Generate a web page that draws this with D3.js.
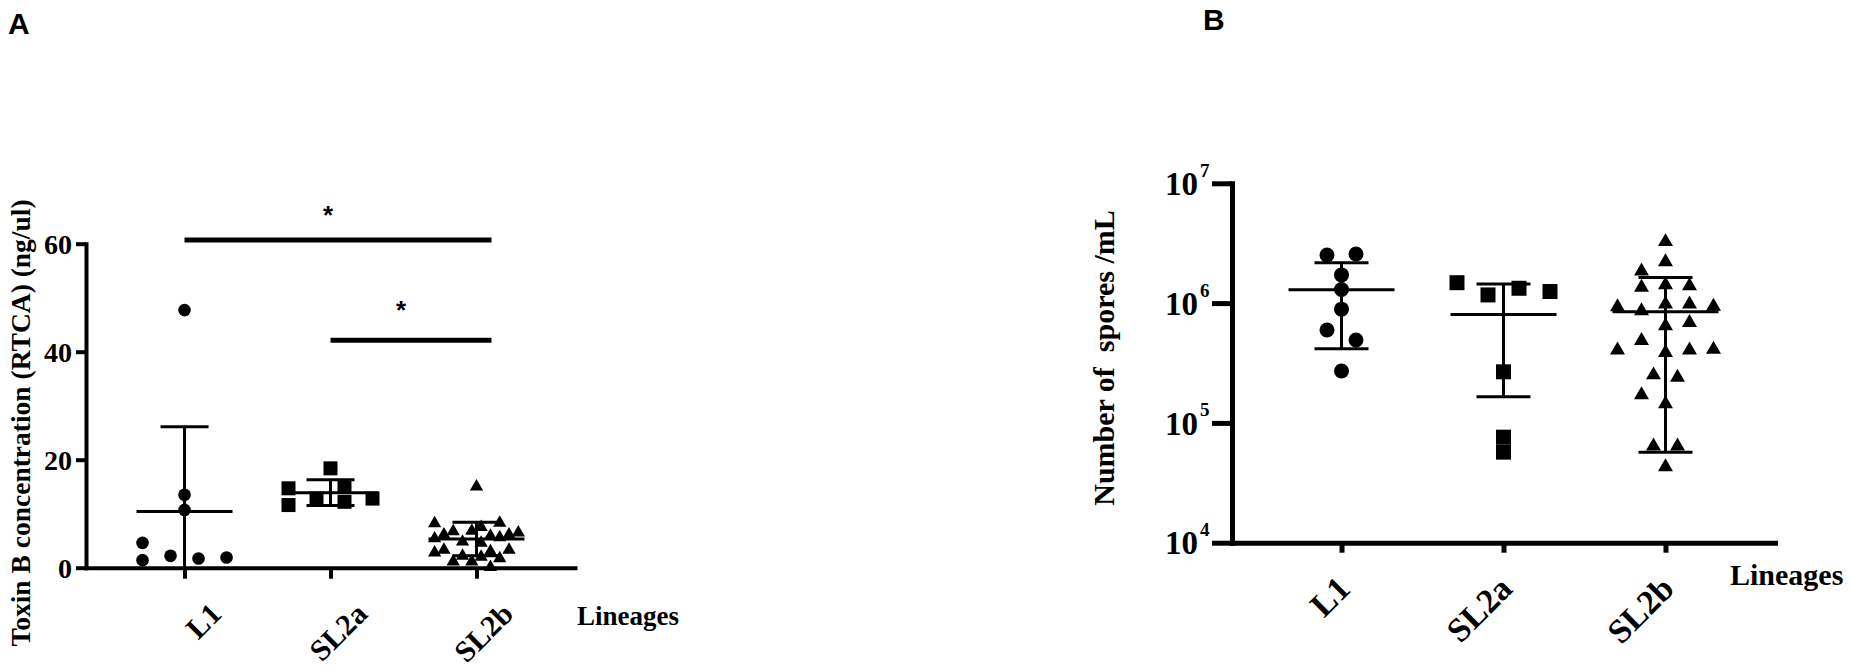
<!DOCTYPE html>
<html>
<head>
<meta charset="utf-8">
<script src="https://cdn.jsdelivr.net/npm/d3@7"></script>
<style>
  html, body { margin: 0; padding: 0; background: #fff; }
  svg { display: block; }
</style>
</head>
<body>
<svg id="chart" width="1851" height="671"></svg>
<script>
// ---------------- DATA ----------------
const categories = ["L1", "SL2a", "SL2b"];

// Panel A: Toxin B concentration (ng/ul)
const toxinL1   = [47.7, 13.5, 10.7, 4.6, 1.4, 2.2, 1.7, 1.9];
const toxinL1Slot = [0, 0, 0, -3, -3, -1, 1, 3];
const toxinSL2a = [18.4, 14.7, 11.6, 12.8, 15.0, 12.2, 12.8];
const toxinSL2aSlot = [0, -3, -3, -1, 1, 1, 3];
const toxinSL2b = [15.0, 8.2, 8.3, 6.7, 6.8, 7.5, 6.5, 5.4, 6.1, 5.9, 5.6, 6.1, 4.8, 4.6, 2.8, 3.3, 3.0, 3.3, 1.1, 2.2, 1.1, 2.0, 1.7, 0.1];
const toxinSL2bSlot = [0, -4.5, 2.5, -2.5, -0.5, 0.5, 4.5, -4.5, -3.5, 1.5, 2.5, 3.5, -1.5, 0.5, -4.5, -3.5, 1.5, 3.5, -2.5, -1.5, -0.5, 0.5, 2.5, 1.5];
const toxinMean = [10.4, 13.9, 5.3];
const toxinSD   = [15.7, 2.4, 3.1];
const toxinTicks = [0, 20, 40, 60];
const sigFrom  = ["L1", "SL2a"];
const sigTo    = ["SL2b", "SL2b"];
const sigY     = [60.7, 42.1];
const sigLabel = ["*", "*"];

// Panel B: Number of spores /mL
const sporesL1   = [2.52e6, 2.57e6, 1.72e6, 1.30e6, 8.9e5, 5.97e5, 4.92e5, 2.71e5];
const sporesL1Slot = [-1, 1, 0, 0, 0, -1, 1, 0];
const sporesSL2a = [1.48e6, 1.17e6, 1.33e6, 1.25e6, 2.67e5, 7.6e4, 5.7e4];
const sporesSL2aSlot = [-3, -1, 1, 3, 0, 0, 0];
const sporesSL2b = [3.25e6, 2.21e6, 1.85e6, 1.35e6, 1.42e6, 1.39e6, 9.3e5, 8.6e5, 9.8e5, 9.8e5, 9.4e5, 6.45e5, 6.86e5, 4.05e5, 4.85e5, 3.85e5, 4.05e5, 4.1e5, 2.51e5, 2.40e5, 1.71e5, 1.44e5, 6.4e4, 6.4e4, 4.3e4];
const sporesSL2bSlot = [0, 0, -2, -2, 0, 2, -4, -2, 0, 2, 4, 0, 2, -4, -2, 0, 2, 4, -1, 1, -2, 0, -1, 1, 0];
const sporesMean = [1.295e6, 8.05e5, 8.47e5];
const sporesSD   = [8.8e5, 6.4e5, 7.9e5];
const sporesTicks = [1e4, 1e5, 1e6, 1e7];
const sporesTickExp = ["4", "5", "6", "7"];

// ---------------- STYLE / LAYOUT ----------------
const SERIF = "'Liberation Serif', 'Times New Roman', serif";
const SANS = "'Liberation Sans', Arial, sans-serif";
const sigStarLift = [16, 21];
const svg = d3.select("#chart");
svg.append("rect").attr("width", 1851).attr("height", 671).attr("fill", "#fff");

function drawPanel(cfg) {
  const g = svg.append("g");
  const x = d3.scalePoint().domain(categories).range(cfg.xRange).padding(cfg.xPad);
  const y = cfg.y;

  // markers
  cfg.groups.forEach((grp, gi) => {
    const cat = categories[gi];
    const sym = d3.symbol().type(grp.type).size(grp.size);
    g.selectAll(null).data(grp.values.map((v, i) => ({ v, s: grp.slots[i] })))
      .enter().append("path")
      .attr("d", sym)
      .attr("transform", d => `translate(${x(cat) + d.s * grp.slotW},${y(d.v)})`)
      .attr("fill", "#000");
  });

  // error bars (mean ± SD)
  categories.forEach((cat, i) => {
    const cx = x(cat);
    const m = cfg.mean[i], sd = cfg.sd[i];
    const lo = m - sd, hi = m + sd;
    const dmin = y.domain()[0];
    const loClip = lo <= dmin;
    const yLo = loClip ? y(dmin) : y(lo);
    g.append("line").attr("x1", cx).attr("x2", cx).attr("y1", y(hi)).attr("y2", yLo)
      .attr("stroke", "#000").attr("stroke-width", cfg.ebW);
    g.append("line").attr("x1", cx - cfg.meanHalf).attr("x2", cx + cfg.meanHalf)
      .attr("y1", y(m)).attr("y2", y(m)).attr("stroke", "#000").attr("stroke-width", cfg.ebW);
    g.append("line").attr("x1", cx - cfg.capHalf).attr("x2", cx + cfg.capHalf)
      .attr("y1", y(hi)).attr("y2", y(hi)).attr("stroke", "#000").attr("stroke-width", cfg.ebW);
    if (!loClip) {
      g.append("line").attr("x1", cx - cfg.capHalf).attr("x2", cx + cfg.capHalf)
        .attr("y1", y(lo)).attr("y2", y(lo)).attr("stroke", "#000").attr("stroke-width", cfg.ebW);
    }
  });

  // y axis
  const yAxis = g.append("g").attr("transform", `translate(${cfg.xRange[0]},0)`)
    .call(d3.axisLeft(y).tickValues(cfg.yTicks).tickSize(cfg.yTickLen).tickSizeOuter(0)
      .tickPadding(cfg.yTickPad).tickFormat(cfg.yFormat));
  // x axis
  const xAxis = g.append("g").attr("transform", `translate(0,${y.range()[0]})`)
    .call(d3.axisBottom(x).tickSize(cfg.xTickLen).tickSizeOuter(0));

  [yAxis, xAxis].forEach(ax => {
    ax.select(".domain").attr("stroke", "#000").attr("stroke-width", cfg.axisW).attr("stroke-linecap", "square");
    ax.selectAll(".tick line").attr("stroke", "#000").attr("stroke-width", cfg.axisW);
    ax.selectAll("text").attr("fill", "#000").attr("font-family", SERIF).attr("font-weight", "bold");
  });
  yAxis.selectAll(".tick text").attr("font-size", cfg.yTickFont).attr("dy", "0.34em");
  xAxis.selectAll(".tick text")
    .attr("font-size", cfg.xTickFont)
    .attr("y", 0).attr("dy", 0)
    .attr("text-anchor", "end")
    .attr("transform", `translate(${cfg.xLabDx},${cfg.xLabDy}) rotate(-45)`);

  if (cfg.yExp) {
    yAxis.selectAll(".tick").append("text")
      .attr("x", cfg.expX).attr("y", cfg.expY)
      .attr("font-family", SERIF).attr("font-weight", "bold")
      .attr("font-size", cfg.expFont).attr("fill", "#000").attr("text-anchor", "start")
      .text((d, i) => cfg.yExp[i]);
  }

  // axis titles
  g.append("text")
    .attr("transform", `translate(${cfg.yTitlePos[0]},${cfg.yTitlePos[1]}) rotate(-90)`)
    .attr("text-anchor", "middle").attr("font-family", SERIF).attr("font-weight", "bold")
    .attr("font-size", cfg.titleFont).attr("fill", "#000")
    .attr("xml:space", "preserve").style("white-space", "pre")
    .text(cfg.yTitle);
  g.append("text")
    .attr("x", cfg.xTitlePos[0]).attr("y", cfg.xTitlePos[1])
    .attr("font-family", SERIF).attr("font-weight", "bold")
    .attr("font-size", cfg.xTitleFont).attr("fill", "#000")
    .text("Lineages");

  // panel letter
  g.append("text").attr("x", cfg.letterPos[0]).attr("y", cfg.letterPos[1])
    .attr("font-family", SANS).attr("font-weight", "bold").attr("font-size", cfg.letterFont)
    .attr("fill", "#000").text(cfg.letter);

  return { g, x, y };
}

// Panel A
const yA = d3.scaleLinear().domain([0, 60]).range([567.7, 243.7]);
const pA = drawPanel({
  xRange: [86, 575], xPad: 0.675, y: yA,
  groups: [
    { values: toxinL1, slots: toxinL1Slot, slotW: 14, type: d3.symbolCircle, size: 125 },
    { values: toxinSL2a, slots: toxinSL2aSlot, slotW: 14, type: d3.symbolSquare, size: 196 },
    { values: toxinSL2b, slots: toxinSL2bSlot, slotW: 9.3, type: d3.symbolTriangle, size: 76 }
  ],
  mean: toxinMean, sd: toxinSD, ebW: 3, meanHalf: 48, capHalf: 24,
  yTicks: toxinTicks, yTickLen: 10, yTickPad: 4, yFormat: d3.format("d"),
  xTickLen: 11, axisW: 4, yTickFont: 28, xTickFont: 30, xLabDx: 38, xLabDy: 48,
  yTitle: "Toxin B concentration (RTCA) (ng/ul)", yTitlePos: [30, 423],
  xTitlePos: [577, 625], titleFont: 27.5, xTitleFont: 27,
  letter: "A", letterPos: [8, 34], letterFont: 30
});
// significance bars
sigFrom.forEach((f, i) => {
  const x1 = pA.x(f), x2 = pA.x(sigTo[i]) + 15, yy = yA(sigY[i]);
  pA.g.append("line").attr("x1", x1).attr("x2", x2).attr("y1", yy).attr("y2", yy)
    .attr("stroke", "#000").attr("stroke-width", 5);
  pA.g.append("text").attr("x", (x1 + x2) / 2 - 10).attr("y", yy - sigStarLift[i])
    .attr("text-anchor", "middle").attr("font-family", SANS).attr("font-weight", "bold")
    .attr("font-size", 26).attr("fill", "#000").text(sigLabel[i]);
});

// Panel B
const yB = d3.scaleLog().domain([1e4, 1e7]).range([542.7, 183.3]);
drawPanel({
  xRange: [1232, 1775], xPad: 0.676, y: yB,
  groups: [
    { values: sporesL1, slots: sporesL1Slot, slotW: 14.5, type: d3.symbolCircle, size: 177 },
    { values: sporesSL2a, slots: sporesSL2aSlot, slotW: 15.5, type: d3.symbolSquare, size: 225 },
    { values: sporesSL2b, slots: sporesSL2bSlot, slotW: 12, type: d3.symbolTriangle, size: 97 }
  ],
  mean: sporesMean, sd: sporesSD, ebW: 3, meanHalf: 53, capHalf: 27,
  yTicks: sporesTicks, yTickLen: 20, yTickPad: 14, yFormat: () => "10",
  yExp: sporesTickExp, expX: -32, expY: -7, expFont: 19,
  xTickLen: 10, axisW: 5, yTickFont: 33, xTickFont: 34, xLabDx: 10, xLabDy: 48,
  yTitle: "Number of  spores /mL", yTitlePos: [1114, 358],
  xTitlePos: [1730, 585], titleFont: 30, xTitleFont: 30,
  letter: "B", letterPos: [1203, 30], letterFont: 30
});
</script>
</body>
</html>
